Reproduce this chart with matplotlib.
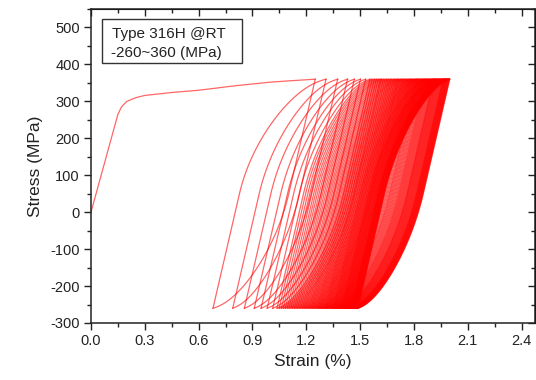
import numpy as np
import matplotlib
matplotlib.use("Agg")
import matplotlib.pyplot as plt
from matplotlib.patches import Rectangle
from matplotlib.ticker import MultipleLocator

plt.rcParams['font.family'] = ['Liberation Sans', 'DejaVu Sans']

# ---- data ----
# first (monotonic) loading curve
mono_strain = [0.0, 0.15, 0.17, 0.20, 0.25, 0.30, 0.45, 0.60, 0.80, 1.00, 1.12, 1.25]
mono_stress = [0, 265, 285, 300, 310, 316, 324, 330, 342, 352, 356, 360]

stress_max = 360
stress_min = -260

# strain at each compressive turning point (valley) of the cycles
valley_strain = [0.68, 0.79, 0.855, 0.91, 0.948, 0.982, 1.013, 1.037,
                 1.049, 1.061, 1.072, 1.083, 1.094, 1.104, 1.114, 1.124, 1.134, 1.143,
                 1.152, 1.161, 1.170, 1.179, 1.187, 1.195, 1.203,
                 1.211, 1.219, 1.226, 1.233, 1.240, 1.247, 1.254, 1.261, 1.267, 1.273,
                 1.279, 1.285, 1.291, 1.297, 1.303, 1.308, 1.313, 1.318, 1.323, 1.328,
                 1.333, 1.338, 1.343, 1.348, 1.352,
                 1.356, 1.360, 1.364, 1.368, 1.372, 1.376, 1.380, 1.384, 1.388, 1.392,
                 1.396, 1.399, 1.402, 1.405, 1.408, 1.411, 1.414, 1.417, 1.420, 1.423,
                 1.426, 1.429, 1.432, 1.435, 1.438, 1.441, 1.444, 1.447, 1.450,
                 1.452, 1.454, 1.456, 1.458, 1.460, 1.462, 1.464, 1.466, 1.468, 1.470,
                 1.472, 1.474, 1.476, 1.478, 1.480, 1.482, 1.484, 1.486, 1.488, 1.490]
# strain at each tensile turning point (peak); first entry = end of first loading
peak_strain = [1.250, 1.310, 1.375, 1.430, 1.468, 1.502, 1.531, 1.555,
               1.567, 1.579, 1.590, 1.601, 1.612, 1.619, 1.629, 1.639, 1.649, 1.658,
               1.667, 1.676, 1.685, 1.694, 1.702, 1.710, 1.716,
               1.724, 1.732, 1.739, 1.746, 1.753, 1.760, 1.767, 1.774, 1.780, 1.786,
               1.792, 1.798, 1.804, 1.810, 1.814, 1.819, 1.824, 1.829, 1.834, 1.839,
               1.844, 1.849, 1.854, 1.859, 1.863,
               1.867, 1.871, 1.875, 1.879, 1.883, 1.887, 1.891, 1.895, 1.899, 1.903,
               1.907, 1.910, 1.912, 1.915, 1.918, 1.921, 1.924, 1.927, 1.930, 1.933,
               1.936, 1.939, 1.942, 1.945, 1.948, 1.951, 1.954, 1.957, 1.960,
               1.962, 1.964, 1.966, 1.968, 1.970, 1.972, 1.974, 1.976, 1.978, 1.980,
               1.982, 1.984, 1.986, 1.988, 1.990, 1.992, 1.994, 1.996, 1.998, 2.000]

# ---- branch shape (elastic part followed by saturating hardening) ----
E_mod = 2100.0   # MPa per % strain
U0 = 0.5
C_SAT = 0.95


def plastic_fraction(x):
    log_part = np.log(1 - C_SAT * x ** 2) / np.log(1 - C_SAT)
    return 0.5 * x ** 2 + 0.5 * log_part


def branch(e0, s0, e1, s1):
    ds = s1 - s0
    sgn = np.sign(ds)
    t = np.linspace(0, 1, 90)
    u = np.concatenate([np.linspace(0, U0, 6)[:-1], U0 + (1 - U0) * (1 - (1 - t) ** 2)])
    plastic = abs(e1 - e0) - abs(ds) / E_mod
    x = np.clip((u - U0) / (1 - U0), 0, 1)
    e = e0 + sgn * (u * abs(ds) / E_mod + plastic * plastic_fraction(x))
    s = s0 + ds * u
    return e, s


W, H = 536, 380
fig = plt.figure(figsize=(W / 100, H / 100), dpi=100)
ax_l, ax_r, ax_t, ax_b = 91, 535, 9, 323
ax = fig.add_axes([ax_l / W, 1 - ax_b / H, (ax_r - ax_l) / W, (ax_b - ax_t) / H])

red = '#ff0000'
lw = 0.9
al = 0.6

ax.plot(mono_strain, mono_stress, color=red, lw=lw, alpha=al)
for k in range(len(valley_strain)):
    # unloading from peak k to valley k
    e, s = branch(peak_strain[k], stress_max, valley_strain[k], stress_min)
    ax.plot(e, s, color=red, lw=lw, alpha=al)
    if k + 1 < len(peak_strain):
        # reloading from valley k to peak k+1
        e, s = branch(valley_strain[k], stress_min, peak_strain[k + 1], stress_max)
        ax.plot(e, s, color=red, lw=lw, alpha=al)

ax.set_xlim(0, 2.475)
ax.set_ylim(-300, 550)
ax.xaxis.set_minor_locator(MultipleLocator(0.15))
ax.yaxis.set_minor_locator(MultipleLocator(50))
xt = np.arange(0, 2.41, 0.3)
ax.set_xticks(xt)
ax.set_xticklabels([f"{v:.1f}" for v in xt])
ax.set_yticks(np.arange(-300, 501, 100))
ax.set_yticklabels([str(v) for v in range(-300, 501, 100)])

ax.tick_params(which='both', direction='out', top=False, right=False, colors='#222222',
               labelsize=10.5, width=1.0)
ax.tick_params(which='major', length=5, pad=3)
ax.tick_params(which='minor', length=3)
# inward ticks on top and right
ax2 = ax.secondary_xaxis('top')
ax2.xaxis.set_major_locator(MultipleLocator(0.3))
ax2.xaxis.set_minor_locator(MultipleLocator(0.15))
ax2.tick_params(which='both', direction='in', labeltop=False, colors='#222222', width=1.0)
ax2.tick_params(which='major', length=5)
ax2.tick_params(which='minor', length=3)
ax3 = ax.secondary_yaxis('right')
ax3.yaxis.set_major_locator(MultipleLocator(100))
ax3.yaxis.set_minor_locator(MultipleLocator(50))
ax3.tick_params(which='both', direction='in', labelright=False, colors='#222222', width=1.0)
ax3.tick_params(which='major', length=5)
ax3.tick_params(which='minor', length=3)

for sp in ax.spines.values():
    sp.set_linewidth(1.1)
    sp.set_color('#222222')

ax.set_xlabel('Strain (%)', fontsize=12.5, color='#222222', labelpad=4)
ax.set_ylabel('Stress (MPa)', fontsize=12.5, color='#222222', labelpad=5)

# annotation box
bx0, bx1, by0, by1 = 102, 242, 19, 63
w_ax, h_ax = ax_r - ax_l, ax_b - ax_t
ax.add_patch(Rectangle(((bx0 - ax_l) / w_ax, (ax_b - by1) / h_ax),
                       (bx1 - bx0) / w_ax, (by1 - by0) / h_ax,
                       transform=ax.transAxes, fill=False, ec='#333333', lw=1.0))
ax.text((112 - ax_l) / w_ax, (ax_b - 34) / h_ax, 'Type 316H @RT', transform=ax.transAxes,
        fontsize=11, color='#222222', va='center', ha='left')
ax.text((111 - ax_l) / w_ax, (ax_b - 53) / h_ax, '-260~360 (MPa)', transform=ax.transAxes,
        fontsize=11, color='#222222', va='center', ha='left')

fig.savefig('out.png', dpi=100)
